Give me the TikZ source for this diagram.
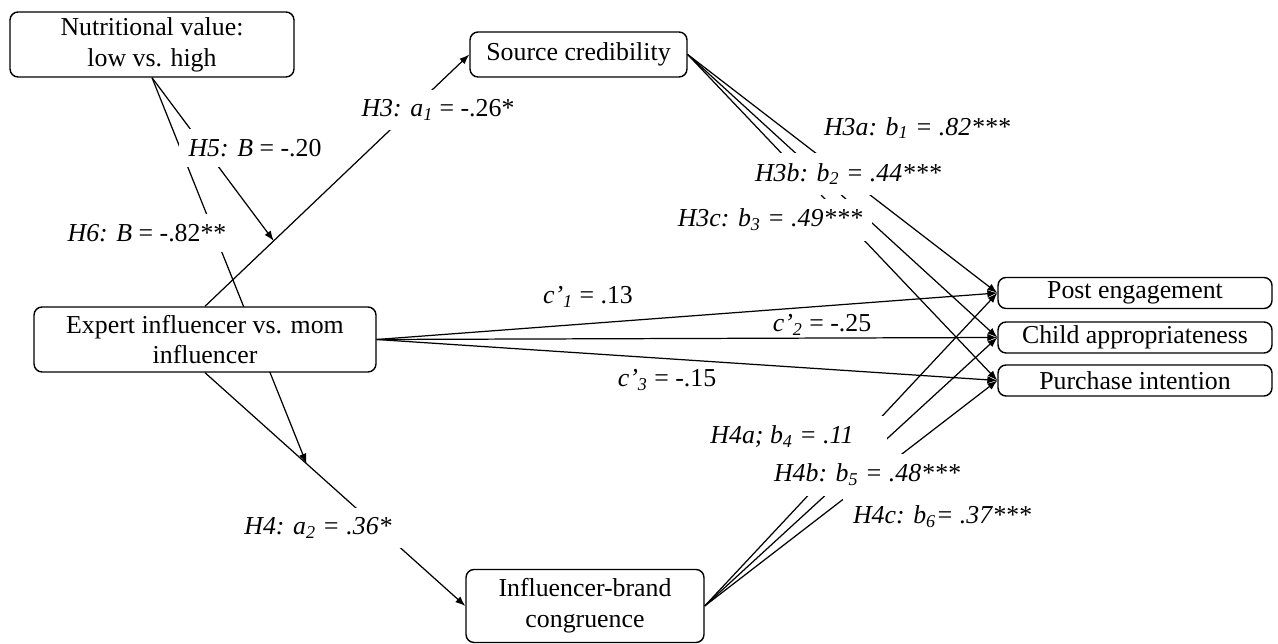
\documentclass[tikz,border=0pt]{standalone}
\usepackage{fontspec}
\setmainfont{Liberation Serif}
\usetikzlibrary{arrows.meta,calc,backgrounds}
\tikzset{
  varbox/.style={draw, line width=0.8pt, rounded corners=0.16cm, fill=white, align=center, inner sep=0pt},
  coef/.style={fill=white, inner xsep=0.2cm, inner ysep=0.2cm},
  link/.style={line width=0.7pt, -{Latex[length=0.2cm,width=0.15cm]}}
}
\begin{document}
\begin{tikzpicture}[x=0.02cm, y=-0.02cm, font=\fontsize{14.7}{17.5}\selectfont]
\useasboundingbox (0,0) rectangle (1278,644);
\node[varbox, minimum width=5.68cm, minimum height=1.3cm] (nutri) at (152,44.5) {Nutritional value:\\low vs. high};
\node[varbox, minimum width=4.34cm, minimum height=0.9cm] (source) at (578.5,54.5) {Source credibility};
\node[varbox, minimum width=6.84cm, minimum height=1.3cm] (expert) at (205,339.5) {Expert influencer vs. mom\\influencer};
\node[varbox, minimum width=4.76cm, minimum height=1.46cm] (congr) at (585,606) {Influencer-brand\\congruence};
\node[varbox, minimum width=5.48cm, minimum height=0.62cm] (post) at (1135,293) {Post engagement};
\node[varbox, minimum width=5.48cm, minimum height=0.62cm] (child) at (1135,337.5) {Child appropriateness};
\node[varbox, minimum width=5.48cm, minimum height=0.62cm] (purch) at (1135,380.5) {Purchase intention};
\coordinate (h5tip) at ($(expert.north)!0.26!(source.west)$);
\coordinate (h6tip) at ($(expert.south)!0.39!(congr.west)$);
\begin{scope}[on background layer]
\draw[link] (expert.north) -- (source.west);\draw[link] (expert.south) -- (congr.west);
\draw[link] (nutri.south) -- (h5tip);\draw[link] (nutri.south) -- (h6tip);
\foreach \dv in {post,child,purch} {\draw[link] (expert.east) -- (\dv.west);\draw[link] (source.east) -- (\dv.west);\draw[link] (congr.east) -- (\dv.west);}
\end{scope}
\node[coef] (lh3) at (438,110) {\textit{H3: a\textsubscript{1}} = -.26*};
\node[coef] (lh5) at (255,148) {\textit{H5: B} = -.20};
\node[coef] (lh6) at (147,233) {\textit{H6: B} = -.82**};
\node[coef] (lh4) at (318,528) {\textit{H4: a\textsubscript{2} = .36*}};
\node (lc1) at (588,297) {\textit{c'\textsubscript{1}} = .13};
\node (lc2) at (822,325) {\textit{c'\textsubscript{2}} = -.25};
\node (lc3) at (667,380) {\textit{c'\textsubscript{3}} = -.15};
\node[coef] (lh3a) at (917,128) {\textit{H3a: b\textsubscript{1} = .82***}};
\node[coef] (lh3b) at (848,174) {\textit{H3b: b\textsubscript{2} = .44***}};
\node[coef] (lh3c) at (770,220) {\textit{H3c: b\textsubscript{3} = .49***}};
\node[coef, minimum width=4.2cm] (lh4a) at (782,437) {\textit{H4a; b\textsubscript{4} = .11}};
\node[coef] (lh4b) at (867,475) {\textit{H4b: b\textsubscript{5} = .48***}};
\node[coef] (lh4c) at (942,517) {\textit{H4c: b\textsubscript{6}= .37***}};
\end{tikzpicture}
\end{document}
